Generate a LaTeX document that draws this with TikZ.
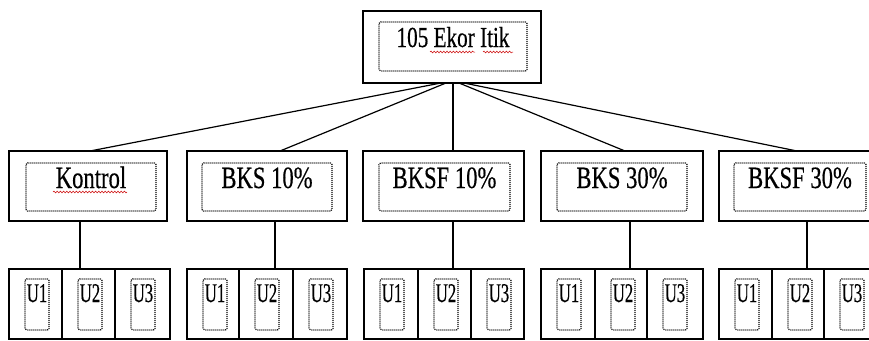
\documentclass[tikz,border=0pt]{standalone}
\usepackage{fontspec}
\setmainfont{Liberation Serif}[FakeStretch=0.73,FakeBold=0.4]
\newfontfamily\ufont{Liberation Serif}[FakeStretch=0.62,FakeBold=0.4]
\usetikzlibrary{decorations.pathmorphing}
\begin{document}
\begin{tikzpicture}[x=1pt,y=-1pt,
  outerbox/.style={draw=black,line width=1.3pt,anchor=north west,inner sep=0pt,outer sep=0pt},
  dotbox/.style={draw=black,line width=1.1pt,dash pattern=on 1pt off 1pt,rounded corners=1.5pt,anchor=north west,inner sep=0pt,outer sep=0pt},
  lbl/.style={anchor=base,inner sep=0pt,font=\fontsize{31}{32}\selectfont},
  ulbl/.style={anchor=base,inner sep=0pt,font=\ufont\fontsize{27}{28}\selectfont},
  conn/.style={draw=black,line width=1.2pt},
  squig/.style={draw=red!80!black,line width=0.5pt,decorate,decoration={snake,amplitude=0.9pt,segment length=3.2pt}}]
\clip (0,0) rectangle (869,340);
\fill[white] (0,0) rectangle (869,340);
% top box
\node[outerbox,minimum width=178pt,minimum height=72pt] (top) at (363,11) {};
\node[dotbox,minimum width=148pt,minimum height=49pt] (topin) at (379,22) {};
\node[lbl,font=\fontsize{29}{30}\selectfont] (toplbl) at (453,47) {105 Ekor Itik};
\draw[squig] (430,52) -- (475,52);
\draw[squig] (483,52) -- (513,52);
% groups
\foreach \n/\oa/\ob/\ia/\ib/\txt/\vx/\sx/\tx/\ua/\ub/\uc/\ud in {
  g1/9/167/26/156/Kontrol/80/441/90/9/62/115/170,
  g2/187/347/202/332/{BKS 10\%}/275/446/280/187/239/293/347,
  g3/363/524/379/510/{BKSF 10\%}/453/453/453/364/418/471/524,
  g4/541/703/557/687/{BKS 30\%}/630/459/625/541/595/647/703,
  g5/719/876/734/866/{BKSF 30\%}/807/464/797/719/772/824/876} {
  \pgfmathsetmacro{\ow}{\ob-\oa}
  \pgfmathsetmacro{\iw}{\ib-\ia}
  \pgfmathsetmacro{\ic}{(\ia+\ib)/2}
  \node[outerbox,minimum width=\ow pt,minimum height=70pt] (\n) at (\oa,151) {};
  \node[dotbox,minimum width=\iw pt,minimum height=48pt] (\n in) at (\ia,163) {};
  \node[lbl] (\n lbl) at (\ic,188) {\txt};
  % connector from top
  \coordinate (\n s) at (\sx,83);
  \coordinate (\n e) at (\tx,151);
  \draw[conn] (\n s) -- (\n e);
  % vertical to U row
  \coordinate (\n a) at (\vx,221);
  \coordinate (\n b) at (\vx,269);
  \draw[conn] (\n a) -- (\n b);
  % U cells
  \foreach \k/\cl/\cr in {1/\ua/\ub,2/\ub/\uc,3/\uc/\ud} {
    \pgfmathsetmacro{\cw}{\cr-\cl}
    \node[outerbox,minimum width=\cw pt,minimum height=70pt] (\n u\k) at (\cl,269) {};
    \node[dotbox,minimum width=24pt,minimum height=51pt] (\n u\k in) at (\cl+16,279) {};
    \node[ulbl] (\n u\k lbl) at (\cl+28,302) {U\k};
  }
}
\draw[squig] (53,192) -- (127,192);
\end{tikzpicture}
\end{document}
